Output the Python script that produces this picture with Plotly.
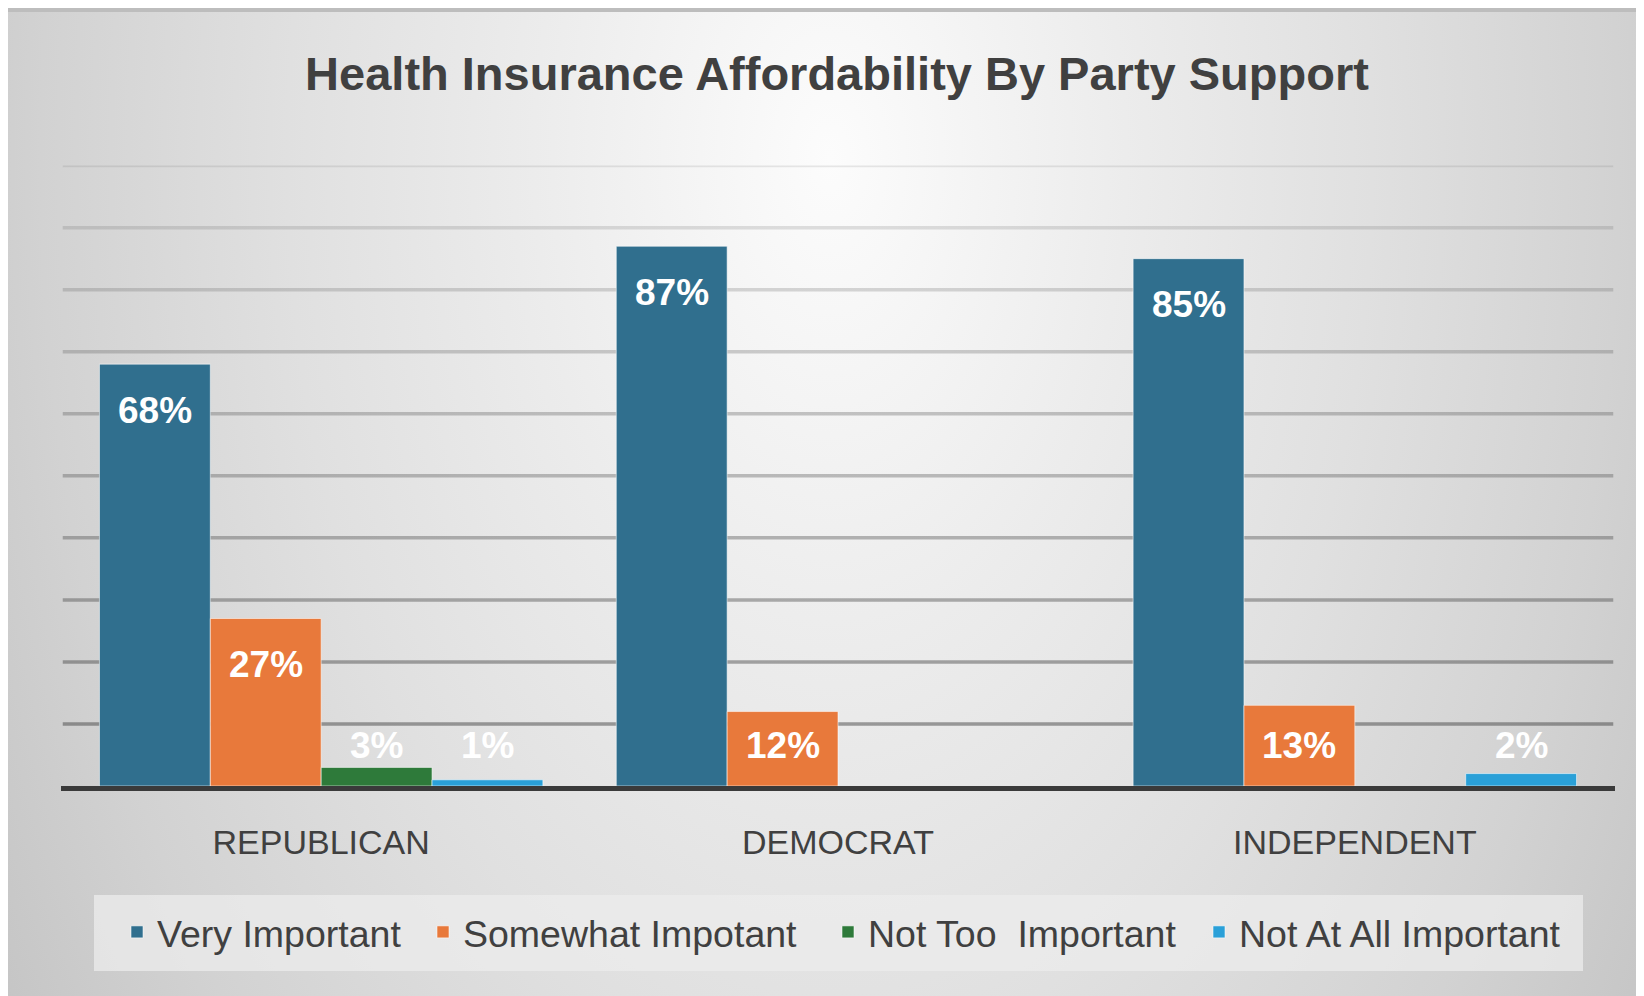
import plotly.graph_objects as go

# ---------------- data ----------------
categories = ["REPUBLICAN", "DEMOCRAT", "INDEPENDENT"]
series_names = ["Very Important", "Somewhat Impotant", "Not Too\u00a0 Important", "Not At All Important"]
very_important = [68, 87, 85]
somewhat_important = [27, 12, 13]
not_too_important = [3, None, None]
not_at_all_important = [1, None, 2]
series_values = [very_important, somewhat_important, not_too_important, not_at_all_important]
series_colors = ["#306F8E", "#E8793B", "#2E7A3A", "#2AA0D8"]
grid_values = [10, 20, 30, 40, 50, 60, 70, 80, 90, 100]
title_text = "Health Insurance Affordability By Party Support"

W, H = 1644, 996
OFF = 8  # the page body margin shifts the figure by 8px; targets below are page pixels
FONT = "Liberation Sans, Arial, sans-serif"


def fx(px):
    return (px - OFF) / W


def fy(py):
    return 1 - (py - OFF) / H


# plot-area geometry (page pixels)
px_left, px_right = 61, 1615
px_top, px_base = 165.6, 786
bargap = 0.142

fig = go.Figure()

# background gradient on a full-page helper subplot
fig.add_trace(go.Scatter(
    x=[-0.1, 1.1, 1.1, -0.1, -0.1],
    y=[-0.8, -0.8, 2.5, 2.5, -0.8],
    mode="lines", fill="toself", line=dict(width=0),
    fillgradient=dict(type="radial",
                      colorscale=[[0, "#fcfcfc"], [0.3, "#ececec"], [0.55, "#e0e0e0"],
                                  [0.8, "#d2d2d2"], [1, "#c4c4c4"]]),
    hoverinfo="skip", showlegend=False, xaxis="x", yaxis="y"))

legend_ids = ["legend", "legend2", "legend3", "legend4"]
legend_marker_left = [131, 437, 842, 1213]  # page pixels of each legend swatch

for name, vals, col, lg in zip(series_names, series_values, series_colors, legend_ids):
    fig.add_trace(go.Bar(
        name=name, x=categories, y=vals, legend=lg,
        marker=dict(color=col, line=dict(color="rgba(255,255,255,0.55)", width=1)),
        xaxis="x2", yaxis="y2", hoverinfo="x+y"))

# data labels
nser = len(series_values)
bw = (1 - bargap) / nser
annotations = []
for si, vals in enumerate(series_values):
    off = (si - (nser - 1) / 2) * bw
    for ci, v in enumerate(vals):
        if v is None:
            continue
        annotations.append(dict(
            x=ci + off, y=max(v - 7.4, 6.5), xref="x2", yref="y2",
            text=f"<b>{v}%</b>", showarrow=False,
            font=dict(family=FONT, size=37, color="white"),
            xanchor="center", yanchor="middle"))

shapes = []
ncat = len(categories)
for i, g in enumerate(grid_values):
    a = 0.50 - 0.38 * i / (len(grid_values) - 1)
    shapes.append(dict(type="line", xref="x2", yref="y2",
                       x0=-0.5, x1=ncat - 0.5, y0=g, y1=g, layer="below",
                       line=dict(color=f"rgba(70,70,70,{a:.3f})", width=3.5)))
# legend box
shapes.append(dict(type="rect", xref="paper", yref="paper",
                   x0=fx(94), x1=fx(1583), y0=fy(971), y1=fy(895),
                   fillcolor="rgba(236,236,236,0.75)", line=dict(width=0), layer="above"))
# top frame strip
shapes.append(dict(type="rect", xref="paper", yref="paper",
                   x0=0, x1=1, y0=1 - 4 / H, y1=1,
                   fillcolor="#bdbdbd", line=dict(width=0), layer="above"))

legend_font = dict(family=FONT, size=37.5, color="#404040")
legend_layout = {}
for lg, mx in zip(legend_ids, legend_marker_left):
    legend_layout[lg] = dict(orientation="h", x=fx(mx - 14), xanchor="left",
                             y=fy(932), yanchor="middle", bgcolor="rgba(0,0,0,0)",
                             font=legend_font)

fig.update_layout(
    width=W, height=H, autosize=False,
    margin=dict(l=0, r=0, t=0, b=0),
    paper_bgcolor="#dcdcdc", plot_bgcolor="rgba(0,0,0,0)",
    title=dict(text=f"<b>{title_text}</b>", x=fx(837), y=fy(74),
               xanchor="center", yanchor="middle",
               font=dict(family=FONT, size=47, color="#404040")),
    xaxis=dict(domain=[0, 1], range=[0, 1], visible=False, fixedrange=True),
    yaxis=dict(domain=[0, 1], range=[0, 1], visible=False, fixedrange=True),
    xaxis2=dict(domain=[fx(px_left), fx(px_right)], anchor="y2", type="category",
                showline=True, linecolor="#3a3a3a", linewidth=5, ticks="",
                showgrid=False, zeroline=False, ticklabelstandoff=22,
                tickfont=dict(family=FONT, size=34, color="#404040")),
    yaxis2=dict(domain=[fy(px_base), fy(px_top)], anchor="x2",
                range=[0, 100], showgrid=False, zeroline=False,
                showticklabels=False, ticks=""),
    barmode="group", bargap=bargap, bargroupgap=0,
    showlegend=True,
    annotations=annotations, shapes=shapes,
    **legend_layout,
)

fig.write_html("out.html")
